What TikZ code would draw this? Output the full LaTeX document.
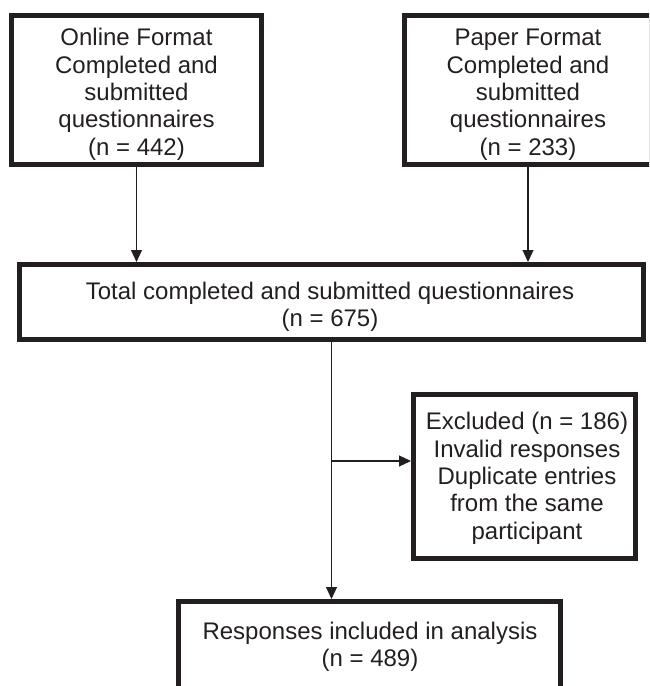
\documentclass[tikz,border=0pt]{standalone}
\usepackage{fontspec}
\setmainfont{Liberation Sans}
\usetikzlibrary{arrows.meta}
\definecolor{ink}{HTML}{231F20}
\begin{document}
\begin{tikzpicture}[x=1pt,y=-1pt,
  box/.style={draw=ink,line width=5pt,outer sep=2.5pt,inner sep=0pt},
  txt/.style={text=ink,font=\fontsize{24}{27.3}\selectfont,align=center,anchor=base,inner sep=0pt},
  arr/.style={draw=ink,line width=1.1pt,-{Triangle[length=12pt,width=11pt]}}]
\useasboundingbox (0,0) rectangle (649,686);
\clip (0,0) rectangle (649,686);
\node[box,minimum width=250pt,minimum height=149pt] (onl) at (136.5,90) {};
\node[txt] (onlt) at (136.5,155) {Online Format\\Completed and\\submitted\\questionnaires\\(n = 442)};
\node[box,minimum width=247pt,minimum height=149pt] (pap) at (528,90) {};
\node[txt] (papt) at (528,155) {Paper Format\\Completed and\\submitted\\questionnaires\\(n = 233)};
\node[box,minimum width=624pt,minimum height=75pt] (tot) at (331.5,302) {};
\node[txt] (tott) at (330,326.5) {Total completed and submitted questionnaires\\(n = 675)};
\node[box,minimum width=222pt,minimum height=164pt] (exc) at (524.5,476.5) {};
\node[txt] (exct) at (527,539) {Excluded (n = 186)\\Invalid responses\\Duplicate entries\\from the same\\participant};
\node[box,minimum width=382pt,minimum height=120pt] (inc) at (369.5,661.5) {};
\node[txt] (inct) at (370,666.5) {Responses included in analysis\\(n = 489)};
\draw[arr] (onl.south) -- (onl.south |- tot.north);
\draw[arr] (pap.south) -- (pap.south |- tot.north);
\coordinate (split) at (331.5,461);
\draw[arr] (tot.south) -- (tot.south |- inc.north);
\draw[arr] (split) -- (split -| exc.west);
\end{tikzpicture}
\end{document}
